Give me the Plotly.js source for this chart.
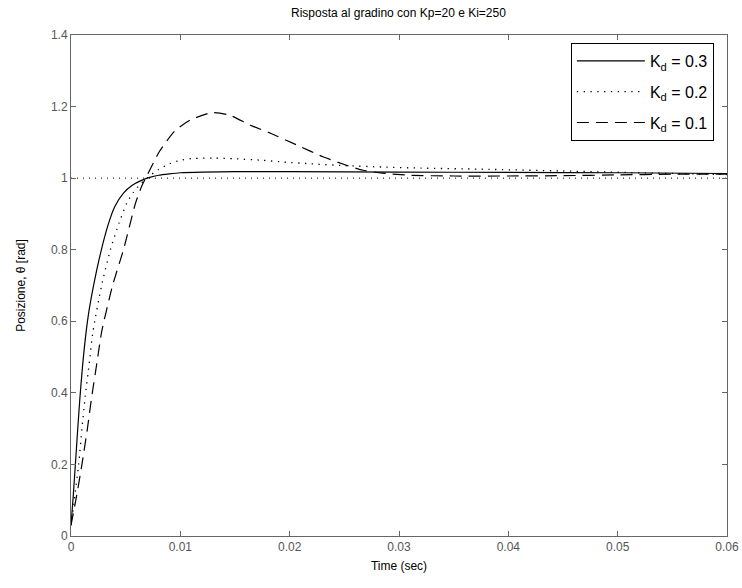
<!DOCTYPE html>
<html>
<head>
<meta charset="utf-8">
<script src="https://cdn.plot.ly/plotly-3.0.1.min.js"></script>
<style>html,body{margin:0;padding:0;background:#fff;}#chart{width:742px;height:588px;}</style>
</head>
<body>
<div id="chart"></div>
<script>
// Kd = 0.3 (solid)
var t03 = [0, 0.0002, 0.0004, 0.0008, 0.0012, 0.0016, 0.002, 0.0027, 0.0034, 0.004, 0.0048, 0.0056, 0.0064, 0.0072, 0.008, 0.009, 0.01, 0.012, 0.015, 0.02, 0.03, 0.04, 0.05, 0.06];
var y03 = [0.03, 0.11, 0.2, 0.38, 0.52, 0.62, 0.69, 0.79, 0.87, 0.92, 0.958, 0.98, 0.993, 1.002, 1.008, 1.012, 1.015, 1.017, 1.018, 1.018, 1.017, 1.016, 1.015, 1.013];
// Kd = 0.2 (dotted)
var t02 = [0, 0.0003, 0.0007, 0.001, 0.0013, 0.0017, 0.002, 0.0028, 0.0036, 0.0044, 0.0051, 0.0057, 0.0063, 0.007, 0.008, 0.009, 0.01, 0.0112, 0.013, 0.015, 0.0175, 0.0194, 0.022, 0.025, 0.0285, 0.032, 0.0375, 0.045, 0.052, 0.06];
var y02 = [0.03, 0.1, 0.2, 0.3, 0.39, 0.49, 0.57, 0.7, 0.8, 0.875, 0.93, 0.96, 0.982, 1.002, 1.024, 1.04, 1.05, 1.055, 1.056, 1.054, 1.05, 1.045, 1.04, 1.035, 1.031, 1.028, 1.025, 1.02, 1.015, 1.01];
// Kd = 0.1 (dashed)
var t01 = [0, 0.0005, 0.001, 0.0015, 0.0019, 0.0024, 0.0028, 0.0038, 0.0048, 0.0059, 0.0065, 0.007, 0.0081, 0.0095, 0.0109, 0.0129, 0.0145, 0.0164, 0.0182, 0.0207, 0.0231, 0.0252, 0.0267, 0.0285, 0.031, 0.035, 0.04, 0.045, 0.05, 0.055, 0.06];
var y01 = [0.03, 0.11, 0.2, 0.3, 0.39, 0.49, 0.57, 0.7, 0.8, 0.93, 0.98, 1.01, 1.075, 1.132, 1.162, 1.183, 1.176, 1.148, 1.126, 1.092, 1.059, 1.036, 1.022, 1.014, 1.008, 1.006, 1.006, 1.007, 1.009, 1.011, 1.011];
// reference level
var refX = [0, 0.06];
var refY = [1, 1];
var legendNames = ['K<sub>d</sub> = 0.3', 'K<sub>d</sub> = 0.2', 'K<sub>d</sub> = 0.1'];

var fontFam = 'Liberation Sans, Arial, sans-serif';
var traces = [
  {x: refX, y: refY, mode: 'lines', line: {color: '#000', width: 1, dash: '1px,5px'}, showlegend: false, hoverinfo: 'skip'},
  {x: t03, y: y03, mode: 'lines', name: legendNames[0], legendgroup: 'a', line: {color: '#000', width: 1.2, shape: 'spline', smoothing: 0.6}},
  {x: t02, y: y02, mode: 'lines', name: legendNames[1], legendgroup: 'b', line: {color: '#000', width: 1.3, dash: '1.3px,5.5px', shape: 'spline', smoothing: 0.6}},
  {x: t01, y: y01, mode: 'lines', name: legendNames[2], legendgroup: 'c', line: {color: '#000', width: 1.2, dash: '12px,7px', shape: 'spline', smoothing: 0.6}}
];

var axisCommon = {
  showgrid: false, zeroline: false, showline: true, mirror: 'ticks',
  linecolor: '#666', linewidth: 1, ticks: 'inside', ticklen: 5, tickcolor: '#666',
  tickfont: {family: fontFam, size: 12, color: '#555'}
};

var layout = {
  width: 742, height: 588,
  margin: {l: 71, r: 15, t: 35, b: 52},
  paper_bgcolor: '#fff', plot_bgcolor: '#fff',
  font: {family: fontFam, color: '#000'},
  title: {text: 'Risposta al gradino con Kp=20 e Ki=250', font: {family: fontFam, size: 12, color: '#000'}, x: 0.537, xanchor: 'center', y: 0.978, yanchor: 'middle'},
  xaxis: Object.assign({}, axisCommon, {range: [0, 0.06], dtick: 0.01, tick0: 0,
    title: {text: 'Time (sec)', font: {family: fontFam, size: 12, color: '#000'}, standoff: 8}}),
  yaxis: Object.assign({}, axisCommon, {range: [0, 1.4], dtick: 0.2, tick0: 0,
    title: {text: 'Posizione, θ [rad]', font: {family: fontFam, size: 12, color: '#000'}, standoff: 22}}),
  legend: {x: 0.98, y: 0.984, xanchor: 'right', yanchor: 'top', bgcolor: '#fff',
    bordercolor: '#000', borderwidth: 1, itemwidth: 68, tracegroupgap: 7,
    font: {family: fontFam, size: 16, color: '#000'}},
  showlegend: true
};

Plotly.newPlot('chart', traces, layout, {staticPlot: true, displayModeBar: false});
</script>
</body>
</html>
